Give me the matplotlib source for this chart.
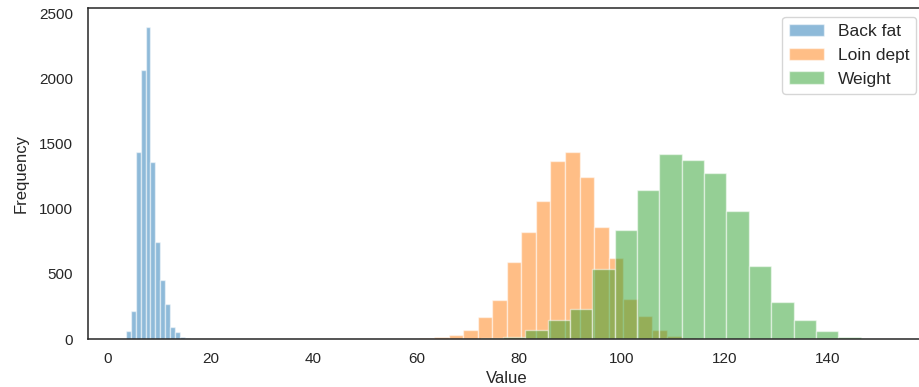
import numpy as np
import matplotlib
matplotlib.use("Agg")
import matplotlib.pyplot as plt

# histogram bins (left edge, bin width, counts)
backfat_start, backfat_width = 3.58, 0.951
backfat_counts = [58, 216, 1434, 2064, 2395, 1358, 746, 456, 268, 89, 50, 18, 5, 3, 2]

loin_start, loin_width = 54.94, 2.832
loin_counts = [2, 3, 5, 13, 33, 71, 171, 298, 591, 820, 1062, 1363, 1434,
               1246, 858, 619, 306, 173, 71, 20, 5]

weight_start, weight_width = 72.5, 4.345
weight_counts = [5, 18, 69, 145, 234, 540, 833, 1147, 1422, 1371, 1274, 981,
                 561, 285, 148, 58, 13, 3]

labels = ["Back fat", "Loin dept", "Weight"]

plt.rcParams['font.family'] = ['Liberation Sans', 'DejaVu Sans']
plt.rcParams['font.size'] = 11
plt.rcParams['text.color'] = '#262626'
plt.rcParams['axes.labelcolor'] = '#262626'
plt.rcParams['xtick.color'] = '#262626'
plt.rcParams['ytick.color'] = '#262626'

fig = plt.figure(figsize=(9.2, 3.87), dpi=100)
ax = fig.add_axes([0.0957, 0.124, 0.9098, 0.855])

series = [(backfat_start, backfat_width, backfat_counts),
          (loin_start, loin_width, loin_counts),
          (weight_start, weight_width, weight_counts)]
colors = ['#1f77b4', '#ff7f0e', '#2ca02c']

for (start, width, counts), label, color in zip(series, labels, colors):
    edges = start + width * np.arange(len(counts) + 1)
    ax.hist(edges[:-1], bins=edges, weights=counts, alpha=0.5,
            color=color, edgecolor='white', linewidth=1, label=label)

ax.set_xlim(-3.8, 158.9)
ax.set_ylim(0, 2540)
ax.set_xticks(np.arange(0, 141, 20))
ax.set_yticks(np.arange(0, 2501, 500))
ax.tick_params(axis='x', length=0, pad=9, labelsize=11)
ax.tick_params(axis='y', length=0, pad=11, labelsize=11)
for s in ax.spines.values():
    s.set_color('#262626')
    s.set_linewidth(1.1)

ax.set_xlabel('Value', fontsize=12, labelpad=4)
ax.set_ylabel('Frequency', fontsize=12, labelpad=7)
leg = ax.legend(loc='upper right', fontsize=12.5, frameon=True)
leg.get_frame().set_edgecolor('#cccccc')

plt.savefig('out.png', dpi=100)
